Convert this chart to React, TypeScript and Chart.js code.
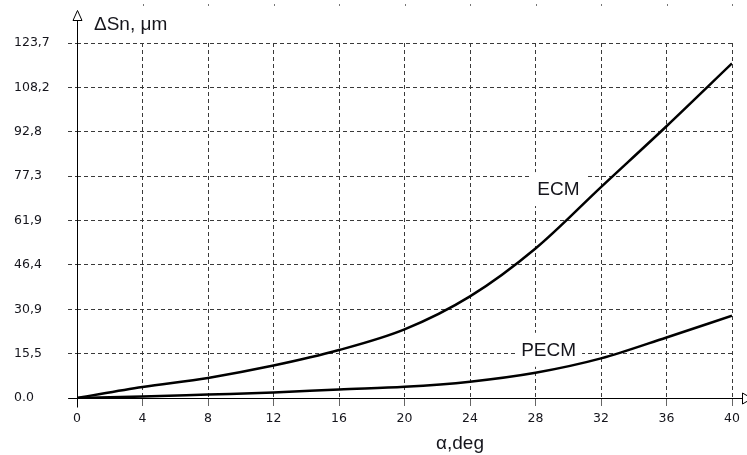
import React, { useEffect, useRef } from "react";
import { Chart, registerables } from "chart.js";

Chart.register(...registerables);

const angles = [0, 4, 8, 12, 16, 20, 24, 28, 32, 36, 40];
const ecmValues = [0, 3.8, 7.0, 11.3, 16.7, 23.9, 35.4, 52.1, 73.5, 94.7, 116.6];
const pecmValues = [0, 0.5, 1.2, 1.9, 3.0, 3.9, 5.7, 8.8, 13.8, 21.1, 28.7];
const seriesNames = ["ECM", "PECM"];
const xTickValues = [0, 4, 8, 12, 16, 20, 24, 28, 32, 36, 40];
const yTickValues = [0, 15.4625, 30.925, 46.3875, 61.85, 77.3125, 92.775, 108.2375, 123.7];
const yTickLabels = ["0.0", "15,5", "30,9", "46,4", "61,9", "77,3", "92,8", "108,2", "123,7"];
const yTitle = "ΔSn, μm";
const xTitle = "α,deg";
// label anchors in data coordinates (angle, value)
const labelAngles = [29.4, 28.8];
const labelValues = [72.8, 16.8];

const TEXT = "#15151c";
const GRID = "#3a3a3a";

const decor = {
  id: "decor",
  beforeDatasetsDraw(chart: any) {
    const { ctx, scales } = chart;
    const x = scales.x;
    const y = scales.y;
    ctx.save();
    ctx.font = '19px "Liberation Sans", Arial, sans-serif';
    ctx.textAlign = "center";
    ctx.textBaseline = "middle";
    seriesNames.forEach((name, i) => {
      const px = x.getPixelForValue(labelAngles[i]);
      const py = y.getPixelForValue(labelValues[i]);
      const w = ctx.measureText(name).width;
      ctx.fillStyle = "#fff";
      ctx.fillRect(px - w / 2 - 6, py - 17, w + 12, 34);
      ctx.fillStyle = TEXT;
      ctx.fillText(name, px, py + 1);
    });
    ctx.restore();
  },
  afterDraw(chart: any) {
    const { ctx, chartArea, scales } = chart;
    const x = scales.x;
    const left = Math.round(chartArea.left) + 0.5;
    const bottom = Math.round(chartArea.bottom) + 0.5;
    ctx.save();
    ctx.strokeStyle = "#000";
    ctx.lineWidth = 1;
    // y axis
    ctx.beginPath();
    ctx.moveTo(left, bottom + 9);
    ctx.lineTo(left, 20);
    ctx.stroke();
    // y arrow
    ctx.beginPath();
    ctx.moveTo(left, 10.5);
    ctx.lineTo(left - 4.5, 20.5);
    ctx.lineTo(left + 4.5, 20.5);
    ctx.closePath();
    ctx.fillStyle = "#fff";
    ctx.fill();
    ctx.stroke();
    // x axis
    ctx.beginPath();
    ctx.moveTo(left - 9, bottom);
    ctx.lineTo(742, bottom);
    ctx.stroke();
    ctx.beginPath();
    ctx.moveTo(742.5, bottom - 5.5);
    ctx.lineTo(752, bottom);
    ctx.lineTo(742.5, bottom + 5.5);
    ctx.closePath();
    ctx.fill();
    ctx.stroke();
    // small dots above vertical grid lines
    ctx.fillStyle = "#777";
    xTickValues.slice(1).forEach((v) => {
      const px = Math.round(x.getPixelForValue(v));
      ctx.fillRect(px, 4, 1, 2);
    });
    // titles
    ctx.fillStyle = TEXT;
    ctx.font = '19px "Liberation Sans", Arial, sans-serif';
    ctx.textAlign = "left";
    ctx.textBaseline = "alphabetic";
    ctx.fillText(yTitle, 94, 30);
    ctx.textAlign = "center";
    ctx.fillText(xTitle, 460, 449);
    ctx.restore();
  },
};

export default function App() {
  const ref = useRef<HTMLCanvasElement | null>(null);
  useEffect(() => {
    if (!ref.current) return;
    const chart = new Chart(ref.current, {
      type: "line",
      data: {
        datasets: [
          {
            label: seriesNames[0],
            data: angles.map((a, i) => ({ x: a, y: ecmValues[i] })),
            borderColor: "#000",
            borderWidth: 2.5,
            pointRadius: 0,
            cubicInterpolationMode: "monotone",
            fill: false,
          },
          {
            label: seriesNames[1],
            data: angles.map((a, i) => ({ x: a, y: pecmValues[i] })),
            borderColor: "#000",
            borderWidth: 2.5,
            pointRadius: 0,
            cubicInterpolationMode: "monotone",
            fill: false,
          },
        ],
      },
      options: {
        responsive: false,
        animation: false,
        devicePixelRatio: 1,
        layout: { padding: { left: 14, top: 43, right: 15, bottom: 0 } },
        plugins: { legend: { display: false }, tooltip: { enabled: false } },
        scales: {
          x: {
            type: "linear",
            min: 0,
            max: 40,
            afterBuildTicks: (s: any) => {
              s.ticks = xTickValues.map((v) => ({ value: v }));
            },
            afterFit: (s: any) => {
              s.height = 57;
            },
            ticks: {
              autoSkip: false,
              maxRotation: 0,
              padding: 5,
              color: TEXT,
              font: { family: '"DejaVu Sans", sans-serif', size: 12.5 },
              callback: (v: any) => String(v),
            },
            grid: {
              color: GRID,
              lineWidth: 1,
              tickLength: 8,
              tickColor: "#666",
              tickBorderDash: [],
            },
            border: { display: false, dash: [4, 3] },
          },
          y: {
            type: "linear",
            min: 0,
            max: 123.7,
            afterBuildTicks: (s: any) => {
              s.ticks = yTickValues.map((v) => ({ value: v }));
            },
            afterFit: (s: any) => {
              s.width = 63;
            },
            ticks: {
              autoSkip: false,
              crossAlign: "far",
              color: TEXT,
              font: { family: '"DejaVu Sans", sans-serif', size: 12.5 },
              callback: (_v: any, i: number) => yTickLabels[i],
            },
            grid: {
              color: GRID,
              lineWidth: 1,
              tickLength: 9,
              tickColor: GRID,
              tickBorderDash: [4, 3],
            },
            border: { display: false, dash: [4, 3] },
          },
        },
      },
      plugins: [decor],
    } as any);
    return () => chart.destroy();
  }, []);
  return (
    <div style={{ position: "absolute", left: 0, top: 0, width: 747, height: 455, background: "#fff" }}>
      <canvas ref={ref} width={747} height={455} style={{ display: "block" }} />
    </div>
  );
}
